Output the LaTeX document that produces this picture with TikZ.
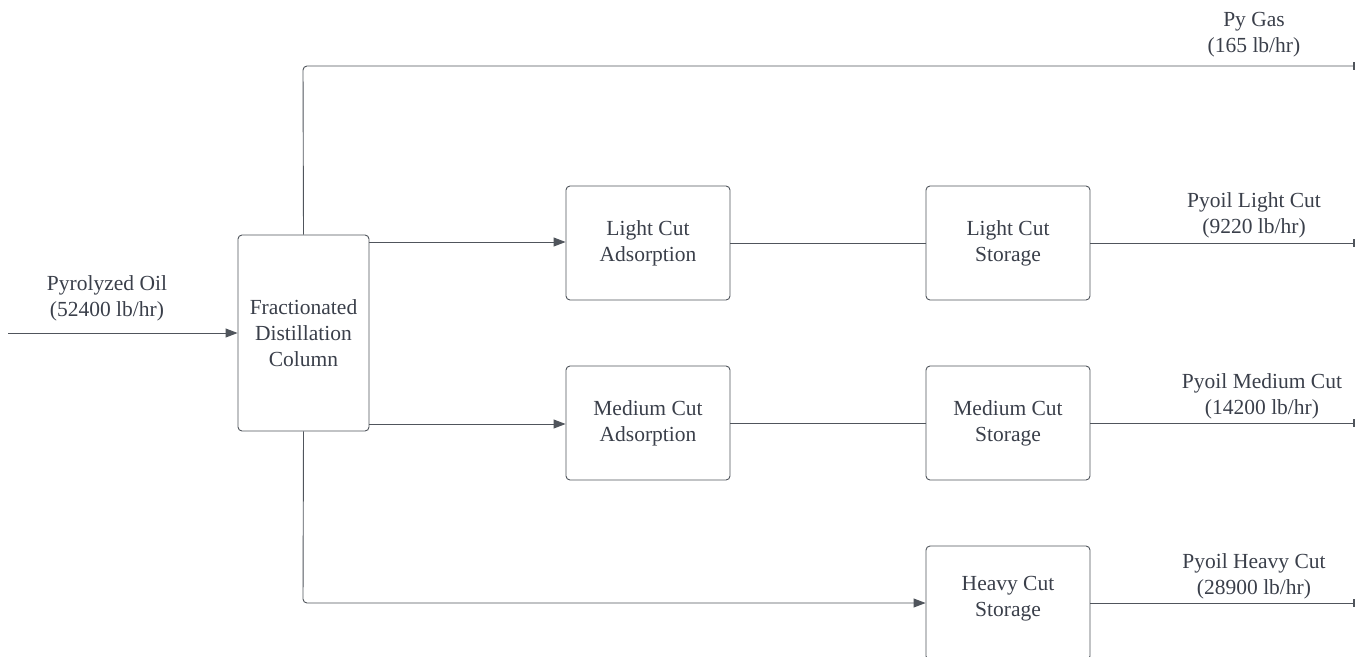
\documentclass[tikz,border=0pt]{standalone}
\usepackage{fontspec}
\setmainfont{Liberation Serif}
\usetikzlibrary{arrows.meta}
\definecolor{txt}{HTML}{3A3F4A}
\definecolor{ln}{HTML}{50555C}
\begin{document}
\begin{tikzpicture}[x=1pt,y=-1pt,
  box/.style={draw=ln, line width=0.9pt, rounded corners=4pt, fill=white, align=center, text=txt, font=\fontsize{21.5}{26}\selectfont, inner sep=0pt},
  lbl/.style={align=center, text=txt, font=\fontsize{21.5}{26}\selectfont},
  flow/.style={draw=ln, line width=0.9pt, -{Triangle[length=12pt,width=9pt]}},
  outflow/.style={draw=ln, line width=0.9pt, -{Bar[width=8pt,line width=1.6pt]}},
  link/.style={draw=ln, line width=0.9pt}]
\useasboundingbox (0,0) rectangle (1357,656);
\begin{scope}
\clip (0,0) rectangle (1357,656);
\node[box, minimum width=131pt, minimum height=196pt] (col) at (303.5,333) {Fractionated\\Distillation\\Column};
\node[box, minimum width=164pt, minimum height=114pt] (lca) at (648,243) {Light Cut\\Adsorption};
\node[box, minimum width=164pt, minimum height=114pt] (lcs) at (1008,243) {Light Cut\\Storage};
\node[box, minimum width=164pt, minimum height=114pt] (mca) at (648,423) {Medium Cut\\Adsorption};
\node[box, minimum width=164pt, minimum height=114pt] (mcs) at (1008,423) {Medium Cut\\Storage};
\node[box, minimum width=164pt, minimum height=114pt] (hcs) at (1008,603) {};
\node[lbl] (hcst) at (1008,599) {Heavy Cut\\Storage};
\end{scope}
\coordinate (in) at (8,333);
\coordinate (gasend) at (1355,66);
\coordinate (lend) at (1355,243);
\coordinate (mend) at (1355,423);
\coordinate (hend) at (1355,603);
\draw[flow] (in) -- (col.west);
\draw[outflow, rounded corners=4pt] (col.north) -- (303,66) -- (gasend);
\draw[flow] (369,242) -- (lca.west |- 0,242);
\draw[link] (lca.east) -- (lcs.west);
\draw[outflow] (lcs.east) -- (lend);
\draw[flow] (369,424) -- (mca.west |- 0,424);
\draw[link] (mca.east) -- (mcs.west);
\draw[outflow] (mcs.east) -- (mend);
\draw[flow, rounded corners=4pt] (col.south) -- (303,603) -- (hcs.west);
\draw[outflow] (hcs.east) -- (hend);
\node[lbl] (l0) at (107,298) {Pyrolyzed Oil\\(52400 lb/hr)};
\node[lbl] (l1) at (1254,35) {Py Gas\\(165 lb/hr)};
\node[lbl] (l2) at (1254,215) {Pyoil Light Cut\\(9220 lb/hr)};
\node[lbl] (l3) at (1262,396) {Pyoil Medium Cut\\(14200 lb/hr)};
\node[lbl] (l4) at (1254,576) {Pyoil Heavy Cut\\(28900 lb/hr)};
\end{tikzpicture}
\end{document}
